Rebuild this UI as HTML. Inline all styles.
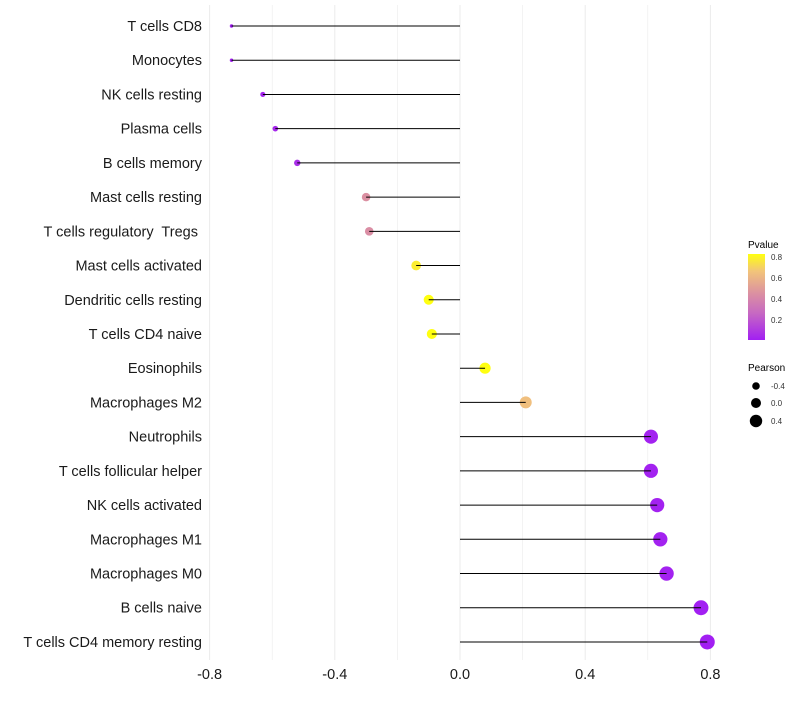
<!DOCTYPE html>
<html><head><meta charset="utf-8"><style>
body{margin:0;background:#fff;font-family:"Liberation Sans",sans-serif}
svg text{font-family:"Liberation Sans",sans-serif;white-space:pre}
</style></head><body>
<svg id="chart" width="800" height="700" viewBox="0 0 800 700" xmlns="http://www.w3.org/2000/svg" xml:space="preserve">
<defs><linearGradient id="pg" x1="0" y1="1" x2="0" y2="0">
<stop offset="0" stop-color="#a21ff2"/><stop offset="0.3" stop-color="#c566c4"/><stop offset="0.55" stop-color="#dc92a0"/><stop offset="0.8" stop-color="#f2c47a"/><stop offset="1" stop-color="#ffff10"/></linearGradient></defs>
<g id="grid"></g>
<g id="marks"></g>
<g id="ylabels"></g>
<g id="xlabels"></g>
<g>
<text x="748" y="248" font-size="10">Pvalue</text>
<rect x="748" y="254" width="17" height="86" fill="url(#pg)"/>
<text x="771" y="260" font-size="8" fill="#333">0.8</text>
<text x="771" y="281" font-size="8" fill="#333">0.6</text>
<text x="771" y="302" font-size="8" fill="#333">0.4</text>
<text x="771" y="323" font-size="8" fill="#333">0.2</text>
</g>
<g>
<text x="748" y="371" font-size="10">Pearson</text>
<circle cx="756" cy="386" r="3.8" fill="#000"/><text x="771" y="389" font-size="8" fill="#333">-0.4</text>
<circle cx="756" cy="403" r="5" fill="#000"/><text x="771" y="406" font-size="8" fill="#333">0.0</text>
<circle cx="756" cy="421" r="6.2" fill="#000"/><text x="771" y="424" font-size="8" fill="#333">0.4</text>
</g>
</svg>
<script>
const categories=["T cells CD8","Monocytes","NK cells resting","Plasma cells","B cells memory","Mast cells resting","T cells regulatory  Tregs ","Mast cells activated","Dendritic cells resting","T cells CD4 naive","Eosinophils","Macrophages M2","Neutrophils","T cells follicular helper","NK cells activated","Macrophages M1","Macrophages M0","B cells naive","T cells CD4 memory resting"];
const pearson=[-0.73,-0.73,-0.63,-0.59,-0.52,-0.30,-0.29,-0.14,-0.10,-0.09,0.08,0.21,0.61,0.61,0.63,0.64,0.66,0.77,0.79];
const pvalues=[0.0,0.0,0.02,0.03,0.05,0.43,0.42,0.75,0.80,0.82,0.88,0.62,0.01,0.01,0.01,0.01,0.01,0.0,0.0];
const xTicks=[-0.8,-0.4,0.0,0.4,0.8];
const xTickLabels=["-0.8","-0.4","0.0","0.4","0.8"];
const NS="http://www.w3.org/2000/svg";
const x=v=>460+v*313;
const y=i=>26+i*34.22;
const r=v=>Math.sqrt(Math.max(2.5,3+35*(v+0.73)));
function lerp(a,b,t){return a.map((c,k)=>Math.round(c+(b[k]-c)*t));}
const stops=[[0,[162,31,242]],[0.24,[197,102,196]],[0.44,[220,146,160]],[0.64,[242,196,122]],[0.8,[255,255,16]]];
function color(p){p=Math.min(0.8,Math.max(0,p));for(let k=1;k<stops.length;k++){if(p<=stops[k][0]){const t=(p-stops[k-1][0])/(stops[k][0]-stops[k-1][0]);return "rgb("+lerp(stops[k-1][1],stops[k][1],t).join(",")+")";}}return "rgb(255,255,16)";}
function el(tag,attrs,parent){const e=document.createElementNS(NS,tag);for(const k in attrs)e.setAttribute(k,attrs[k]);parent.appendChild(e);return e;}
const grid=document.getElementById('grid');
for(let v=-0.8;v<=0.801;v+=0.2){const g=el('line',{x1:x(v),x2:x(v),y1:5,y2:660,stroke:'#ebebeb','stroke-width':Math.abs(Math.round(v*10))%4===0?1:0.6},grid);

}
const marks=document.getElementById('marks');const yl=document.getElementById('ylabels');
categories.forEach((c,i)=>{
const pt=el('circle',{cx:x(pearson[i]),cy:y(i),r:r(pearson[i]),fill:color(pvalues[i])},marks);


const ln=el('line',{x1:x(0),x2:x(pearson[i]),y1:y(i),y2:y(i),stroke:'#000','stroke-width':1},marks);


const t=el('text',{x:202,y:y(i)+5,'text-anchor':'end','font-size':14.5,fill:'#1a1a1a'},yl);t.textContent=c;


});
const xl=document.getElementById('xlabels');
xTicks.forEach((v,k)=>{const t=el('text',{x:x(v),y:679,'text-anchor':'middle','font-size':14.5,fill:'#1a1a1a'},xl);t.textContent=xTickLabels[k];

});
</script>
</body></html>
